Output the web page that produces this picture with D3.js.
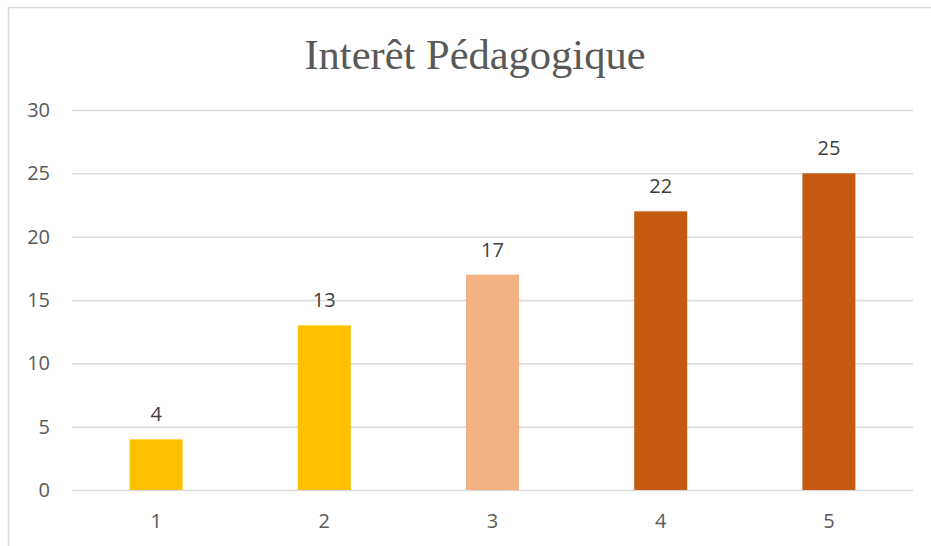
<!DOCTYPE html>
<html>
<head>
<meta charset="utf-8">
<script src="https://cdn.jsdelivr.net/npm/d3@7"></script>
<style>
  body { margin: 0; background: #fff; }
  svg { display: block; }
</style>
</head>
<body>
<div id="chart"></div>
<script>
// Data
const categories = ["1", "2", "3", "4", "5"];
const values = [4, 13, 17, 22, 25];
const barColors = ["#FFC000", "#FFC000", "#F4B183", "#C55A11", "#C55A11"];
const yTicks = [0, 5, 10, 15, 20, 25, 30];
const chartTitle = "Interêt Pédagogique";

const width = 931;
const height = 546;
const margin = { top: 110, right: 18, bottom: 56, left: 72 };
const innerWidth = width - margin.left - margin.right;
const innerHeight = height - margin.top - margin.bottom;

const svg = d3.select("#chart")
  .append("svg")
  .attr("width", width)
  .attr("height", height);

// chart frame (only left and top edges are visible in the crop)
svg.append("path")
  .attr("d", `M8.5,${height} V7.5 H${width}`)
  .attr("fill", "none")
  .attr("stroke", "#d9d9d9")
  .attr("stroke-width", 1.5);

svg.append("text")
  .text(chartTitle)
  .attr("x", 475)
  .attr("y", 69)
  .attr("text-anchor", "middle")
  .attr("font-family", "'Liberation Serif', 'Times New Roman', serif")
  .attr("font-size", 42.5)
  .attr("fill", "#595959");

const innerChart = svg.append("g")
  .attr("transform", `translate(${margin.left}, ${margin.top})`);

const xScale = d3.scaleBand()
  .domain(categories)
  .range([0, innerWidth])
  .paddingInner(0.685)
  .paddingOuter(0.3425);

const yScale = d3.scaleLinear()
  .domain([0, 30])
  .range([innerHeight, 0]);

// gridlines
innerChart.append("g")
  .selectAll("line")
  .data(yTicks)
  .join("line")
  .attr("x1", 0)
  .attr("x2", innerWidth)
  .attr("y1", d => yScale(d) + 0.5)
  .attr("y2", d => yScale(d) + 0.5)
  .attr("stroke", "#d9d9d9")
  .attr("stroke-width", 1.5);

// bars
innerChart.append("g")
  .selectAll("rect")
  .data(values)
  .join("rect")
  .attr("x", (d, i) => xScale(categories[i]))
  .attr("y", d => yScale(d))
  .attr("width", xScale.bandwidth())
  .attr("height", d => innerHeight - yScale(d))
  .attr("fill", (d, i) => barColors[i]);

// value labels
innerChart.append("g")
  .selectAll("text")
  .data(values)
  .join("text")
  .text(d => d)
  .attr("x", (d, i) => xScale(categories[i]) + xScale.bandwidth() / 2)
  .attr("y", d => yScale(d) - 18)
  .attr("text-anchor", "middle")
  .attr("font-family", "'Open Sans', sans-serif")
  .attr("font-size", 20)
  .attr("fill", "#404040");

// axes
const leftAxis = d3.axisLeft(yScale)
  .tickValues(yTicks)
  .tickSize(0)
  .tickPadding(22);
const yAxisG = innerChart.append("g").call(leftAxis);
yAxisG.select(".domain").remove();

const bottomAxis = d3.axisBottom(xScale)
  .tickSize(0)
  .tickPadding(24);
const xAxisG = innerChart.append("g")
  .attr("transform", `translate(0, ${innerHeight})`)
  .call(bottomAxis);
xAxisG.select(".domain").remove();

svg.selectAll(".tick text")
  .attr("font-family", "'Open Sans', sans-serif")
  .attr("font-size", 20)
  .attr("fill", "#595959");
</script>
</body>
</html>
